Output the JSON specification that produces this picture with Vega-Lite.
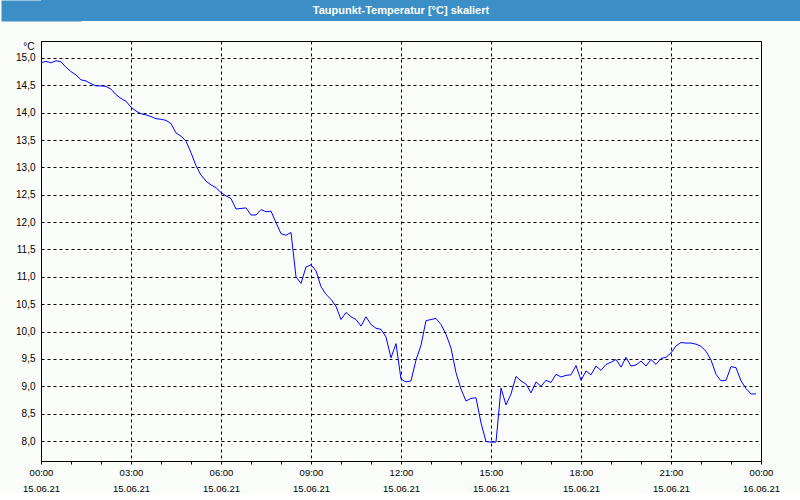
{
  "$schema": "https://vega.github.io/schema/vega-lite/v6.json",
  "background": "#fafcfa",
  "padding": 0,
  "spacing": 19,
  "config": {
    "font": "Liberation Sans",
    "view": {"stroke": "#000000", "strokeWidth": 1}
  },
  "vconcat": [
    {
      "width": 760,
      "height": 21,
      "view": {"fill": "#3c8fc6", "stroke": null},
      "data": {"values": [{"label": "Taupunkt-Temperatur [°C] skaliert"}]},
      "mark": {"type": "text", "color": "#ffffff", "font": "Liberation Sans", "fontWeight": "bold", "fontSize": 11, "baseline": "middle", "align": "center", "dx": -20},
      "encoding": {
        "text": {"field": "label", "type": "nominal"},
        "y": {
          "datum": 0,
          "type": "quantitative",
          "scale": {"domain": [-1, 1], "nice": false},
          "axis": {
            "title": null,
            "labels": false,
            "ticks": false,
            "grid": false,
            "domain": true,
            "domainColor": "#3c8fc6",
            "domainWidth": 80,
            "minExtent": 0,
            "maxExtent": 0
          }
        }
      }
    },
    {
      "width": 720,
      "height": 420,
      "data": {
        "values": [
          {"m": 0, "v": 14.91}, {"m": 10, "v": 14.94}, {"m": 20, "v": 14.91}, {"m": 30, "v": 14.95},
          {"m": 40, "v": 14.93}, {"m": 50, "v": 14.83}, {"m": 60, "v": 14.75}, {"m": 70, "v": 14.69},
          {"m": 80, "v": 14.60}, {"m": 90, "v": 14.58}, {"m": 100, "v": 14.53}, {"m": 110, "v": 14.49},
          {"m": 120, "v": 14.49}, {"m": 130, "v": 14.48}, {"m": 140, "v": 14.43}, {"m": 150, "v": 14.33},
          {"m": 160, "v": 14.26}, {"m": 170, "v": 14.21}, {"m": 180, "v": 14.10}, {"m": 190, "v": 14.03},
          {"m": 200, "v": 13.98}, {"m": 210, "v": 13.96}, {"m": 220, "v": 13.93}, {"m": 230, "v": 13.89},
          {"m": 240, "v": 13.88}, {"m": 250, "v": 13.86}, {"m": 260, "v": 13.80}, {"m": 270, "v": 13.63},
          {"m": 280, "v": 13.57}, {"m": 290, "v": 13.48}, {"m": 300, "v": 13.27}, {"m": 310, "v": 13.03},
          {"m": 320, "v": 12.86}, {"m": 330, "v": 12.75}, {"m": 340, "v": 12.68}, {"m": 350, "v": 12.63},
          {"m": 360, "v": 12.54}, {"m": 370, "v": 12.48}, {"m": 380, "v": 12.43}, {"m": 390, "v": 12.24},
          {"m": 400, "v": 12.25}, {"m": 410, "v": 12.26}, {"m": 420, "v": 12.13}, {"m": 430, "v": 12.13},
          {"m": 440, "v": 12.23}, {"m": 450, "v": 12.19}, {"m": 460, "v": 12.20}, {"m": 470, "v": 11.99},
          {"m": 480, "v": 11.79}, {"m": 490, "v": 11.76}, {"m": 500, "v": 11.81}, {"m": 510, "v": 11.00},
          {"m": 520, "v": 10.88}, {"m": 530, "v": 11.18}, {"m": 540, "v": 11.22}, {"m": 550, "v": 11.11},
          {"m": 560, "v": 10.82}, {"m": 570, "v": 10.68}, {"m": 580, "v": 10.59}, {"m": 590, "v": 10.46},
          {"m": 600, "v": 10.22}, {"m": 610, "v": 10.35}, {"m": 620, "v": 10.27}, {"m": 630, "v": 10.22},
          {"m": 640, "v": 10.10}, {"m": 650, "v": 10.27}, {"m": 660, "v": 10.13}, {"m": 670, "v": 10.06},
          {"m": 680, "v": 10.04}, {"m": 690, "v": 9.90}, {"m": 700, "v": 9.52}, {"m": 710, "v": 9.78},
          {"m": 720, "v": 9.13}, {"m": 730, "v": 9.08}, {"m": 740, "v": 9.10}, {"m": 750, "v": 9.48},
          {"m": 760, "v": 9.75}, {"m": 770, "v": 10.20}, {"m": 780, "v": 10.22}, {"m": 790, "v": 10.24},
          {"m": 800, "v": 10.13}, {"m": 810, "v": 9.95}, {"m": 820, "v": 9.70}, {"m": 830, "v": 9.25},
          {"m": 840, "v": 8.95}, {"m": 850, "v": 8.73}, {"m": 860, "v": 8.78}, {"m": 870, "v": 8.79},
          {"m": 880, "v": 8.33}, {"m": 890, "v": 7.99}, {"m": 900, "v": 7.98}, {"m": 910, "v": 7.98},
          {"m": 920, "v": 8.97}, {"m": 930, "v": 8.66}, {"m": 940, "v": 8.86}, {"m": 950, "v": 9.18},
          {"m": 960, "v": 9.10}, {"m": 970, "v": 9.04}, {"m": 980, "v": 8.88}, {"m": 990, "v": 9.08},
          {"m": 1000, "v": 9.00}, {"m": 1010, "v": 9.11}, {"m": 1020, "v": 9.07}, {"m": 1030, "v": 9.22},
          {"m": 1040, "v": 9.17}, {"m": 1050, "v": 9.20}, {"m": 1060, "v": 9.21}, {"m": 1070, "v": 9.38},
          {"m": 1080, "v": 9.11}, {"m": 1090, "v": 9.28}, {"m": 1100, "v": 9.21}, {"m": 1110, "v": 9.37},
          {"m": 1120, "v": 9.29}, {"m": 1130, "v": 9.40}, {"m": 1140, "v": 9.44}, {"m": 1150, "v": 9.49},
          {"m": 1160, "v": 9.35}, {"m": 1170, "v": 9.53}, {"m": 1180, "v": 9.37}, {"m": 1190, "v": 9.39},
          {"m": 1200, "v": 9.46}, {"m": 1210, "v": 9.37}, {"m": 1220, "v": 9.49}, {"m": 1230, "v": 9.40},
          {"m": 1240, "v": 9.51}, {"m": 1250, "v": 9.53}, {"m": 1260, "v": 9.61}, {"m": 1270, "v": 9.74},
          {"m": 1280, "v": 9.80}, {"m": 1290, "v": 9.79}, {"m": 1300, "v": 9.79}, {"m": 1310, "v": 9.77},
          {"m": 1320, "v": 9.73}, {"m": 1330, "v": 9.64}, {"m": 1340, "v": 9.48}, {"m": 1350, "v": 9.22},
          {"m": 1360, "v": 9.10}, {"m": 1370, "v": 9.11}, {"m": 1380, "v": 9.36}, {"m": 1390, "v": 9.34},
          {"m": 1400, "v": 9.10}, {"m": 1410, "v": 8.96}, {"m": 1420, "v": 8.86}, {"m": 1430, "v": 8.86}
        ]
      },
      "mark": {"type": "line", "color": "#0000ff", "strokeWidth": 1, "interpolate": "linear"},
      "encoding": {
        "x": {
          "field": "m",
          "type": "quantitative",
          "scale": {"domain": [0, 1440], "nice": false, "zero": false},
          "axis": {
            "title": null,
            "values": [0, 60, 120, 180, 240, 300, 360, 420, 480, 540, 600, 660, 720, 780, 840, 900, 960, 1020, 1080, 1140, 1200, 1260, 1320, 1380, 1440],
            "labelExpr": "datum.value % 180 == 0 ? [format(floor(datum.value / 60) % 24, '02d') + ':00', datum.value == 1440 ? '16.06.21' : '15.06.21'] : ''",
            "labelOverlap": false,
            "labelFlush": false,
            "labelFont": "Liberation Sans",
            "labelFontSize": 9.5,
            "labelColor": "#000000",
            "labelPadding": 3,
            "labelLineHeight": 16,
            "labelBaseline": "top",
            "tickSize": 3,
            "tickColor": "#000000",
            "domain": false,
            "grid": true,
            "gridColor": "#000000",
            "gridDash": [3, 3],
            "gridOpacity": {"condition": {"test": "datum.value % 180 == 0", "value": 1}, "value": 0}
          }
        },
        "y": {
          "field": "v",
          "type": "quantitative",
          "scale": {"domain": [7.635, 15.31], "nice": false, "zero": false},
          "axis": {
            "title": "°C",
            "titleAngle": 0,
            "titleAlign": "right",
            "titleBaseline": "middle",
            "titleX": -7,
            "titleY": 5,
            "titleFont": "Liberation Sans",
            "titleFontSize": 10,
            "titleFontWeight": "normal",
            "titleColor": "#000000",
            "values": [8, 8.5, 9, 9.5, 10, 10.5, 11, 11.5, 12, 12.5, 13, 13.5, 14, 14.5, 15],
            "labelExpr": "replace(format(datum.value, '.1f'), '.', ',')",
            "labelFont": "Liberation Sans",
            "labelFontSize": 10,
            "labelColor": "#000000",
            "labelPadding": 6,
            "ticks": false,
            "domain": false,
            "grid": true,
            "gridColor": "#000000",
            "gridDash": [3, 3],
            "minExtent": 40,
            "maxExtent": 40
          }
        }
      }
    }
  ]
}
